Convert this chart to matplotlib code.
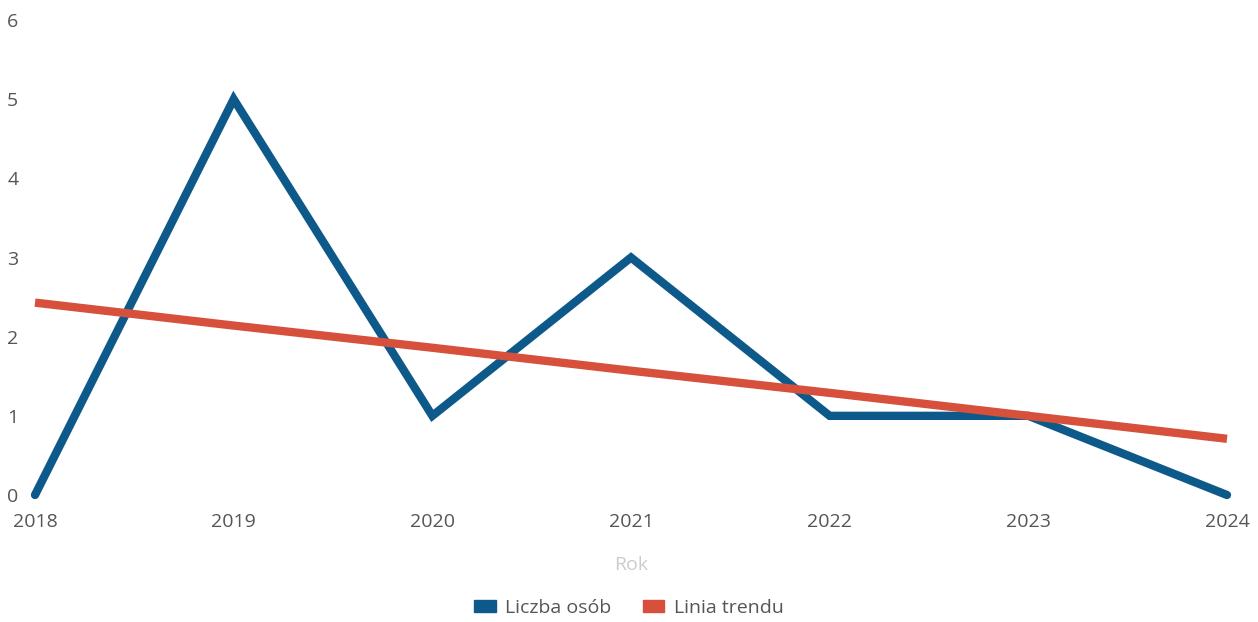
import matplotlib
matplotlib.use("Agg")
import matplotlib.pyplot as plt
from matplotlib.patches import Patch

years = [2018, 2019, 2020, 2021, 2022, 2023, 2024]
liczba_osob = [0, 5, 1, 3, 1, 1, 0]
linia_trendu = [2.43, 2.14, 1.86, 1.57, 1.29, 1.00, 0.71]
y_ticks = [0, 1, 2, 3, 4, 5, 6]

plt.rcParams['font.family'] = ['Open Sans', 'DejaVu Sans']

fig = plt.figure(figsize=(12.58, 6.22), dpi=100)
ax = fig.add_axes([35/1258, 1-495/622, (1227-35)/1258, (495-20)/622])

blue = '#0d5a8a'
red = '#d6503c'
ax.plot(years, liczba_osob, color=blue, lw=6, solid_capstyle='round', solid_joinstyle='miter', clip_on=False, zorder=2)
ax.plot(years, linia_trendu, color=red, lw=6, solid_capstyle='butt', clip_on=False, zorder=3)

ax.set_xlim(2018, 2024)
ax.set_ylim(0, 6)
ax.set_yticks(y_ticks)
ax.set_xticks(years)
for s in ax.spines.values():
    s.set_visible(False)
ax.tick_params(axis='both', length=0, labelsize=14, colors='#555555')
ax.tick_params(axis='y', pad=12)
ax.tick_params(axis='x', pad=13)

ax.set_xlabel('Rok', fontsize=14, color='#cccccc', labelpad=18)

handles = [Patch(color=blue), Patch(color=red)]
fig.legend(handles, ['Liczba osób', 'Linia trendu'], loc='center', bbox_to_anchor=(0.5, 1-608/622),
           ncol=2, frameon=False, fontsize=14, labelcolor='#555555',
           handlelength=1.1, handleheight=0.55, handletextpad=0.5, columnspacing=1.6)

fig.savefig('out.png', dpi=100)
